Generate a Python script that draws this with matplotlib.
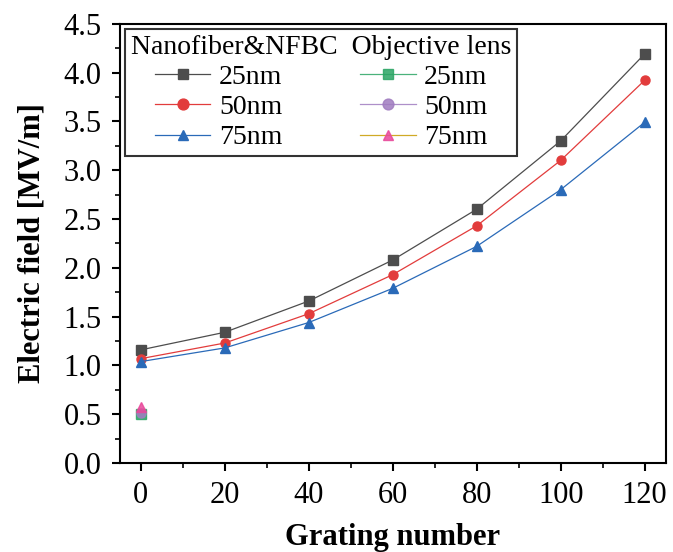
import numpy as np
import matplotlib
matplotlib.use("Agg")
import matplotlib.pyplot as plt
from matplotlib.ticker import MultipleLocator, AutoMinorLocator

# ==========================================
# DATA
# ==========================================
grating = [0, 20, 40, 60, 80, 100, 120]
nf_25 = [1.16, 1.34, 1.66, 2.08, 2.60, 3.30, 4.19]
nf_50 = [1.07, 1.23, 1.53, 1.93, 2.43, 3.10, 3.92]
nf_75 = [1.04, 1.18, 1.44, 1.79, 2.22, 2.80, 3.49]

obj_x = [0]
obj_25 = [0.50]
obj_50 = [0.51]
obj_75 = [0.57]

labels = ["25nm", "50nm", "75nm"]

# ==========================================
# STYLE
# ==========================================
plt.rcParams["font.family"] = ["Liberation Serif", "DejaVu Serif"]

fig = plt.figure(figsize=(6.73, 5.52), dpi=100)
ax = fig.add_axes([0.178, 0.161, 0.811, 0.796])

nf_colors = ["#4d4d4d", "#e23c3c", "#2a6ab8"]
obj_colors = ["#2aa564", "#a07cc0", "#c89b00"]
obj_face = ["#2aa564", "#a07cc0", "#e8489a"]
markers = ["s", "o", "^"]

handles = []
for ys, c, m, lab in zip([nf_25, nf_50, nf_75], nf_colors, markers, labels):
    h, = ax.plot(grating, ys, color=c, marker=m, markersize=6.5, lw=0.9,
                 markerfacecolor=c, markeredgecolor=c, label=lab)
    handles.append(h)

for ys, c, fc, m, lab in zip([obj_25, obj_50, obj_75], obj_colors, obj_face, markers, labels):
    h, = ax.plot(obj_x, ys, color=c, marker=m, markersize=6.5, lw=0.9,
                 markerfacecolor=fc, markeredgecolor=fc, alpha=0.85, label=lab)
    handles.append(h)

# ==========================================
# AXES
# ==========================================
ax.set_xlim(-5, 125)
ax.set_ylim(0, 4.5)
ax.xaxis.set_major_locator(MultipleLocator(20))
ax.xaxis.set_minor_locator(AutoMinorLocator(2))
ax.yaxis.set_major_locator(MultipleLocator(0.5))
ax.yaxis.set_minor_locator(AutoMinorLocator(2))
ax.yaxis.set_major_formatter(plt.FormatStrFormatter("%.1f"))

ax.tick_params(which="major", direction="out", length=6, width=1.5, labelsize=22)
ax.tick_params(axis="y", which="major", pad=7)
ax.tick_params(axis="x", which="major", pad=7)
ax.tick_params(which="minor", direction="out", length=3.5, width=1.2)
for s in ax.spines.values():
    s.set_linewidth(1.5)

ax.set_xlabel("Grating number", fontsize=22, fontweight="bold", labelpad=9)
ax.set_ylabel("Electric field [MV/m]", fontsize=22, fontweight="bold", labelpad=12)

leg = ax.legend(handles=handles, ncol=2, loc="upper left",
                title="Nanofiber&NFBC  Objective lens", title_fontsize=20,
                fontsize=20, frameon=True, fancybox=False, edgecolor="black",
                borderaxespad=0.2, handlelength=2.0, handletextpad=0.3,
                columnspacing=2.8, labelspacing=0.17, borderpad=0.2,
                markerscale=1.2)
leg.get_frame().set_linewidth(1.5)

fig.savefig("out.png", dpi=100)
